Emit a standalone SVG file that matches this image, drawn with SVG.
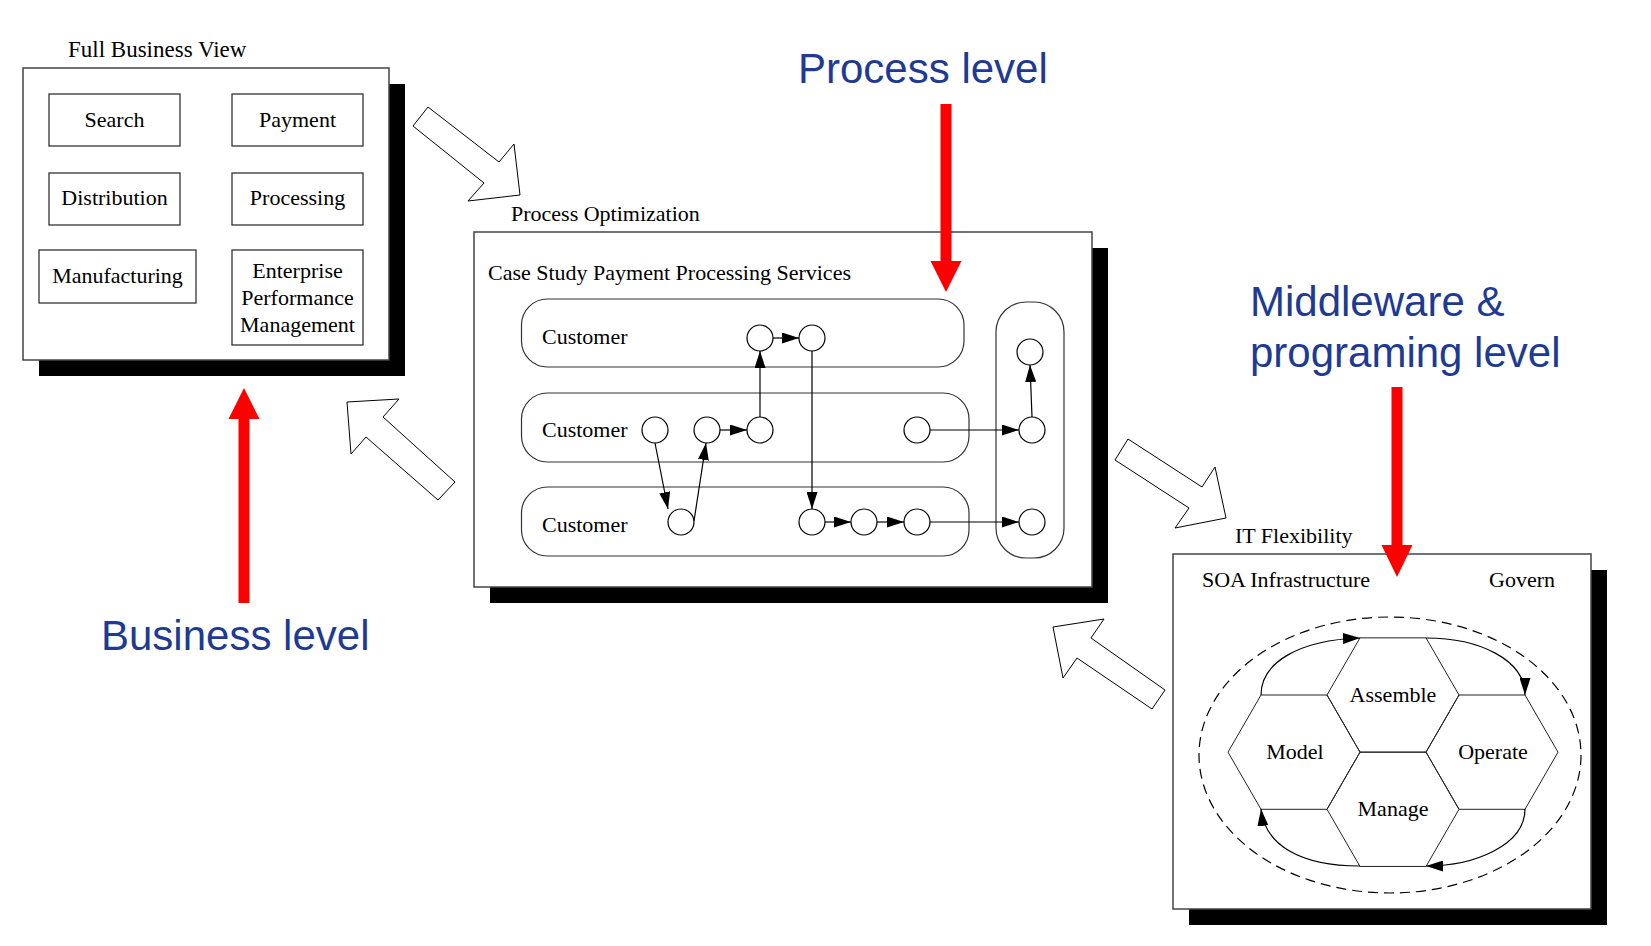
<svg xmlns="http://www.w3.org/2000/svg" width="1651" height="946" viewBox="0 0 1651 946">
<style>
.bg{fill:#fff}
.frame{fill:#fff;stroke:#444;stroke-width:1.5}
.shadow{fill:#000}
.box{fill:#fff;stroke:#333;stroke-width:1.3}
.lane{fill:none;stroke:#333;stroke-width:1.2}
.t{font-family:"Liberation Serif","Times New Roman",serif;font-size:22px;fill:#000}
.tc{text-anchor:middle}
.lvl{font-family:"Liberation Sans",Arial,sans-serif;font-size:42px;fill:#1F3A93}
.node{fill:#fff;stroke:#000;stroke-width:1.2}
.con{fill:none;stroke:#000;stroke-width:1.2}
.block{fill:#fff;stroke:#000;stroke-width:1}
.hex{fill:none;stroke:#222;stroke-width:1}
.red{fill:#FF0000}
</style>
<defs>
<marker id="ah" viewBox="0 0 17 11" refX="17" refY="5.5" markerWidth="17" markerHeight="11" markerUnits="userSpaceOnUse" orient="auto">
<path d="M0,0 L17,5.5 L0,11 z" fill="#000"/>
</marker>
</defs>
<rect class="bg" x="0" y="0" width="1651" height="946"/>

<g id="full-business-view">
<rect class="shadow" x="39" y="84" width="366" height="292"/>
<rect class="frame" x="23" y="68" width="366" height="292"/>
<text class="t" x="68" y="57" style="font-size:23px">Full Business View</text>
<g id="search"><rect class="box" x="49" y="94" width="131" height="52"/><text class="t tc" x="114.5" y="127">Search</text></g>
<g id="payment"><rect class="box" x="232" y="94" width="131" height="52"/><text class="t tc" x="297.5" y="127">Payment</text></g>
<g id="distribution"><rect class="box" x="49" y="173" width="131" height="52"/><text class="t tc" x="114.5" y="205">Distribution</text></g>
<g id="processing"><rect class="box" x="232" y="173" width="131" height="52"/><text class="t tc" x="297.5" y="205">Processing</text></g>
<g id="manufacturing"><rect class="box" x="39" y="250" width="157" height="53"/><text class="t tc" x="117.5" y="283">Manufacturing</text></g>
<g id="epm"><rect class="box" x="232" y="250" width="131" height="95"/>
<text class="t tc" x="297.5" y="278">Enterprise</text>
<text class="t tc" x="297.5" y="305">Performance</text>
<text class="t tc" x="297.5" y="332">Management</text></g>
</g>

<g id="process-optimization">
<rect class="shadow" x="490" y="248" width="618" height="355"/>
<rect class="frame" x="474" y="232" width="618" height="355"/>
<text class="t" x="511" y="221">Process Optimization</text>
<text class="t" x="488" y="280">Case Study Payment Processing Services</text>
<g id="lane1"><rect class="lane" x="521.5" y="299" width="442.5" height="68" rx="26" ry="26"/><text class="t" x="542" y="344">Customer</text></g>
<g id="lane2"><rect class="lane" x="521.5" y="393" width="447.5" height="69" rx="26" ry="26"/><text class="t" x="542" y="437">Customer</text></g>
<g id="lane3"><rect class="lane" x="521.5" y="487" width="447.5" height="69" rx="26" ry="26"/><text class="t" x="542" y="532">Customer</text></g>
<g id="lane-right"><rect class="lane" x="996" y="302" width="68" height="256" rx="30" ry="30"/></g>
</g>

<g id="process-nodes">
<circle id="n1c" class="node" cx="760" cy="338" r="13"/>
<circle id="n1d" class="node" cx="812" cy="338" r="13"/>
<circle id="n2a" class="node" cx="655" cy="430" r="13"/>
<circle id="n2b" class="node" cx="707" cy="430" r="13"/>
<circle id="n2c" class="node" cx="760" cy="430" r="13"/>
<circle id="n2f" class="node" cx="917" cy="430" r="13"/>
<circle id="n3x" class="node" cx="681" cy="522" r="13"/>
<circle id="n3d" class="node" cx="812" cy="522" r="13"/>
<circle id="n3e" class="node" cx="864" cy="522" r="13"/>
<circle id="n3f" class="node" cx="917" cy="522" r="13"/>
<circle id="rg1" class="node" cx="1030" cy="352" r="13"/>
<circle id="rg2" class="node" cx="1032" cy="430" r="13"/>
<circle id="rg3" class="node" cx="1032" cy="522" r="13"/>
</g>

<g id="it-flexibility">
<rect class="shadow" x="1189" y="570" width="418" height="355"/>
<rect class="frame" x="1173" y="554" width="418" height="355"/>
<text class="t" x="1235" y="543">IT Flexibility</text>
<text class="t" x="1202" y="587">SOA Infrastructure</text>
<text class="t" x="1489" y="587">Govern</text>
<ellipse cx="1390" cy="755" rx="191" ry="138" fill="none" stroke="#000" stroke-width="1.2" stroke-dasharray="10,6"/>
<g id="assemble"><polygon class="hex" points="1327,695 1360,637.85 1426,637.85 1459,695 1426,752.15 1360,752.15"/><text class="t tc" x="1393" y="702">Assemble</text></g>
<g id="manage"><polygon class="hex" points="1327,809.3 1360,752.15 1426,752.15 1459,809.3 1426,866.45 1360,866.45"/><text class="t tc" x="1393" y="816">Manage</text></g>
<g id="model"><polygon class="hex" points="1228,752.15 1261,695 1327,695 1360,752.15 1327,809.3 1261,809.3"/><text class="t tc" x="1295" y="759">Model</text></g>
<g id="operate"><polygon class="hex" points="1426,752.15 1459,695 1525,695 1558,752.15 1525,809.3 1459,809.3"/><text class="t tc" x="1493" y="759">Operate</text></g>
</g>

<g id="connectors">
<path class="con" d="M773,338 L799,338" marker-end="url(#ah)"/>
<path class="con" d="M720,430 L747,430" marker-end="url(#ah)"/>
<path class="con" d="M760,417 L760,351" marker-end="url(#ah)"/>
<path class="con" d="M812,351 L812,509" marker-end="url(#ah)"/>
<path class="con" d="M655,443 L668,509" marker-end="url(#ah)"/>
<path class="con" d="M694,521 L706,443" marker-end="url(#ah)"/>
<path class="con" d="M825,522 L851,522" marker-end="url(#ah)"/>
<path class="con" d="M877,522 L904,522" marker-end="url(#ah)"/>
<path class="con" d="M930,522 L1019,522" marker-end="url(#ah)"/>
<path class="con" d="M930,430 L1019,430" marker-end="url(#ah)"/>
<path class="con" d="M1032,417 L1030,365" marker-end="url(#ah)"/>
<path class="con" d="M1261,695 C1261,662 1300,640 1360,638" marker-end="url(#ah)"/>
<path class="con" d="M1426,638 C1480,638 1525,660 1525,695" marker-end="url(#ah)"/>
<path class="con" d="M1525,809 C1525,845 1475,866 1426,866" marker-end="url(#ah)"/>
<path class="con" d="M1360,866 C1300,866 1265,845 1261,809" marker-end="url(#ah)"/>
<polygon id="flow1" class="block" points="413,126 428,107 499,162 514,144 520,195 468,201 484,183"/>
<polygon id="flow2" class="block" points="347,402 399,399 383,417 455,482 438,500 366,437 351,454"/>
<polygon id="flow3" class="block" points="1115,460 1128,439 1202,487 1215,467 1226,518 1175,528 1189,508"/>
<polygon id="flow4" class="block" points="1053,627 1104,619 1091,638 1165,690 1152,709 1077,658 1063,678"/>
</g>

<g id="levels">
<polygon class="red" points="238.5,603 249.5,603 249.5,419 259.5,419 244,388 228.5,419 238.5,419"/>
<text class="lvl" x="101" y="650">Business level</text>
<polygon class="red" points="940.5,104 951.5,104 951.5,261 961.5,261 946,292 930.5,261 940.5,261"/>
<text class="lvl" x="798" y="83">Process level</text>
<polygon class="red" points="1391.5,387 1402.5,387 1402.5,545 1412.5,545 1397,577 1381.5,545 1391.5,545"/>
<text class="lvl" x="1250" y="316">Middleware &amp;</text>
<text class="lvl" x="1250" y="367">programing level</text>
</g>
</svg>
